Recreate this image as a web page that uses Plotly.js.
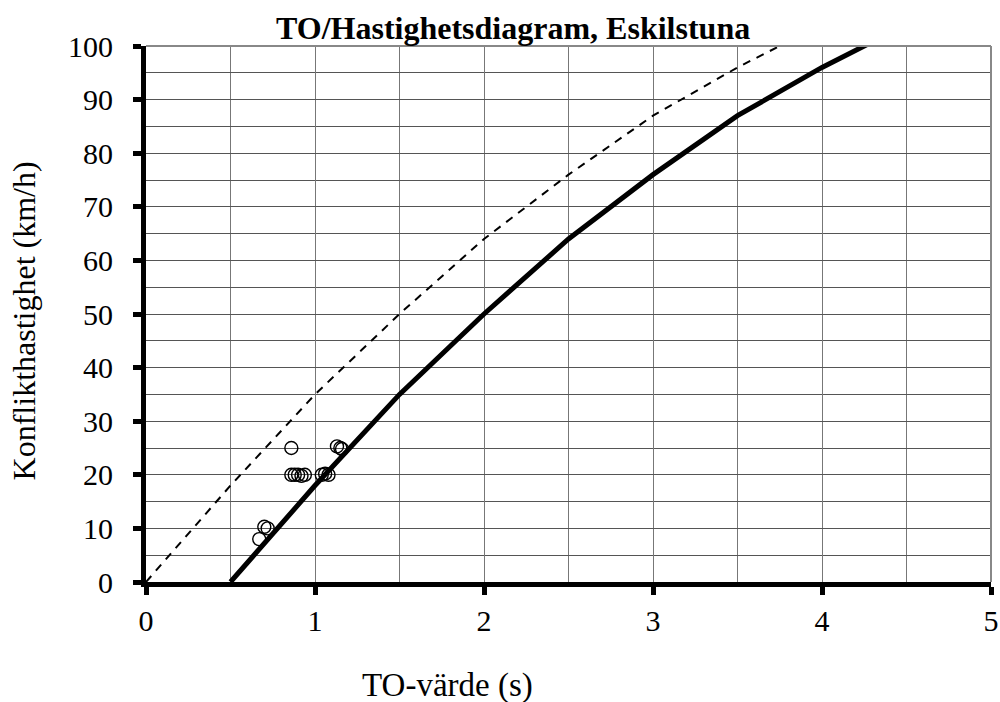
<!DOCTYPE html>
<html>
<head>
<meta charset="utf-8">
<script src="https://cdn.plot.ly/plotly-3.0.1.min.js"></script>
<style>html,body{margin:0;padding:0;background:#fff;}#chart{width:1000px;height:702px;}</style>
</head>
<body>
<div id="chart"></div>
<script>
// Solid limit curve
const solidX = [0.5, 1.0, 1.5, 2.0, 2.5, 3.0, 3.5, 4.0, 4.5];
const solidY = [0, 18, 35, 50, 64, 76, 87, 96, 104];
// Dashed curve
const dashX = [0.0, 0.5, 1.0, 1.5, 2.0, 2.5, 3.0, 3.5, 4.0];
const dashY = [0, 18, 35, 50, 64, 76, 87, 96, 104];
// Observed conflicts
const obsX = [0.67, 0.70, 0.72, 0.86, 0.86, 0.88, 0.90, 0.92, 0.94, 1.04, 1.06, 1.08, 1.13, 1.15, 1.16];
const obsY = [8, 10.3, 10, 25, 20, 20, 20, 19.8, 20, 20, 20.2, 20, 25.3, 25, 24.8];

const titleText = 'TO/Hastighetsdiagram, Eskilstuna';
const xTitle = 'TO-värde (s)';
const yTitle = 'Konflikthastighet (km/h)';

const font = 'Liberation Serif, Times New Roman, serif';

const traces = [
  {x: dashX, y: dashY, mode: 'lines', line: {color: '#000', width: 2, dash: '8px,7px'}, hoverinfo: 'none'},
  {x: solidX, y: solidY, mode: 'lines', line: {color: '#000', width: 5}, hoverinfo: 'none'},
  {x: obsX, y: obsY, mode: 'markers', marker: {symbol: 'circle-open', size: 13, color: '#000', line: {width: 1.4, color: '#000'}}, hoverinfo: 'none', cliponaxis: false}
];

const layout = {
  width: 1000, height: 702,
  margin: {l: 146, r: 9, t: 46, b: 120},
  paper_bgcolor: '#fff', plot_bgcolor: '#fff',
  showlegend: false,
  font: {family: font, color: '#000', size: 30},
  xaxis: {
    range: [0, 5], dtick: 1, tick0: 0,
    showgrid: true, gridcolor: '#777', gridwidth: 1,
    minor: {dtick: 0.5, showgrid: true, gridcolor: '#777', gridwidth: 1, ticks: ''},
    zeroline: false, showline: true, linecolor: '#000', linewidth: 5,
    ticks: 'outside', ticklen: 8, tickwidth: 5, tickcolor: '#000',
    tickfont: {family: font, size: 30, color: '#000'},
    ticklabelstandoff: 0,
    fixedrange: true
  },
  yaxis: {
    range: [0, 100], dtick: 10, tick0: 0,
    showgrid: true, gridcolor: '#555', gridwidth: 1,
    minor: {dtick: 5, showgrid: true, gridcolor: '#555', gridwidth: 1, ticks: ''},
    zeroline: false, showline: true, linecolor: '#000', linewidth: 5,
    ticks: 'outside', ticklen: 8, tickwidth: 5, tickcolor: '#000',
    tickfont: {family: font, size: 30, color: '#000'},
    ticklabelstandoff: 14,
    fixedrange: true
  },
  shapes: [
    {type: 'line', xref: 'paper', yref: 'paper', x0: 0, x1: 1, y0: 1, y1: 1, line: {color: '#888', width: 2}, layer: 'above'},
    {type: 'line', xref: 'paper', yref: 'paper', x0: 1, x1: 1, y0: 0, y1: 1, line: {color: '#888', width: 2}, layer: 'above'}
  ],
  annotations: [
    {text: '<b>' + titleText + '</b>', xref: 'paper', yref: 'paper', x: 0.434, y: 1.034, yanchor: 'middle', xanchor: 'center', showarrow: false, font: {family: font, size: 32, color: '#000'}},
    {text: xTitle, xref: 'paper', yref: 'paper', x: 0.357, y: -0.194, yanchor: 'middle', xanchor: 'center', showarrow: false, font: {family: font, size: 33, color: '#000'}},
    {text: yTitle, xref: 'paper', yref: 'paper', x: -0.1444, y: 0.488, xanchor: 'center', yanchor: 'middle', textangle: -90, showarrow: false, font: {family: font, size: 32, color: '#000'}}
  ]
};

Plotly.newPlot('chart', traces, layout, {displayModeBar: false, staticPlot: true});
</script>
</body>
</html>
